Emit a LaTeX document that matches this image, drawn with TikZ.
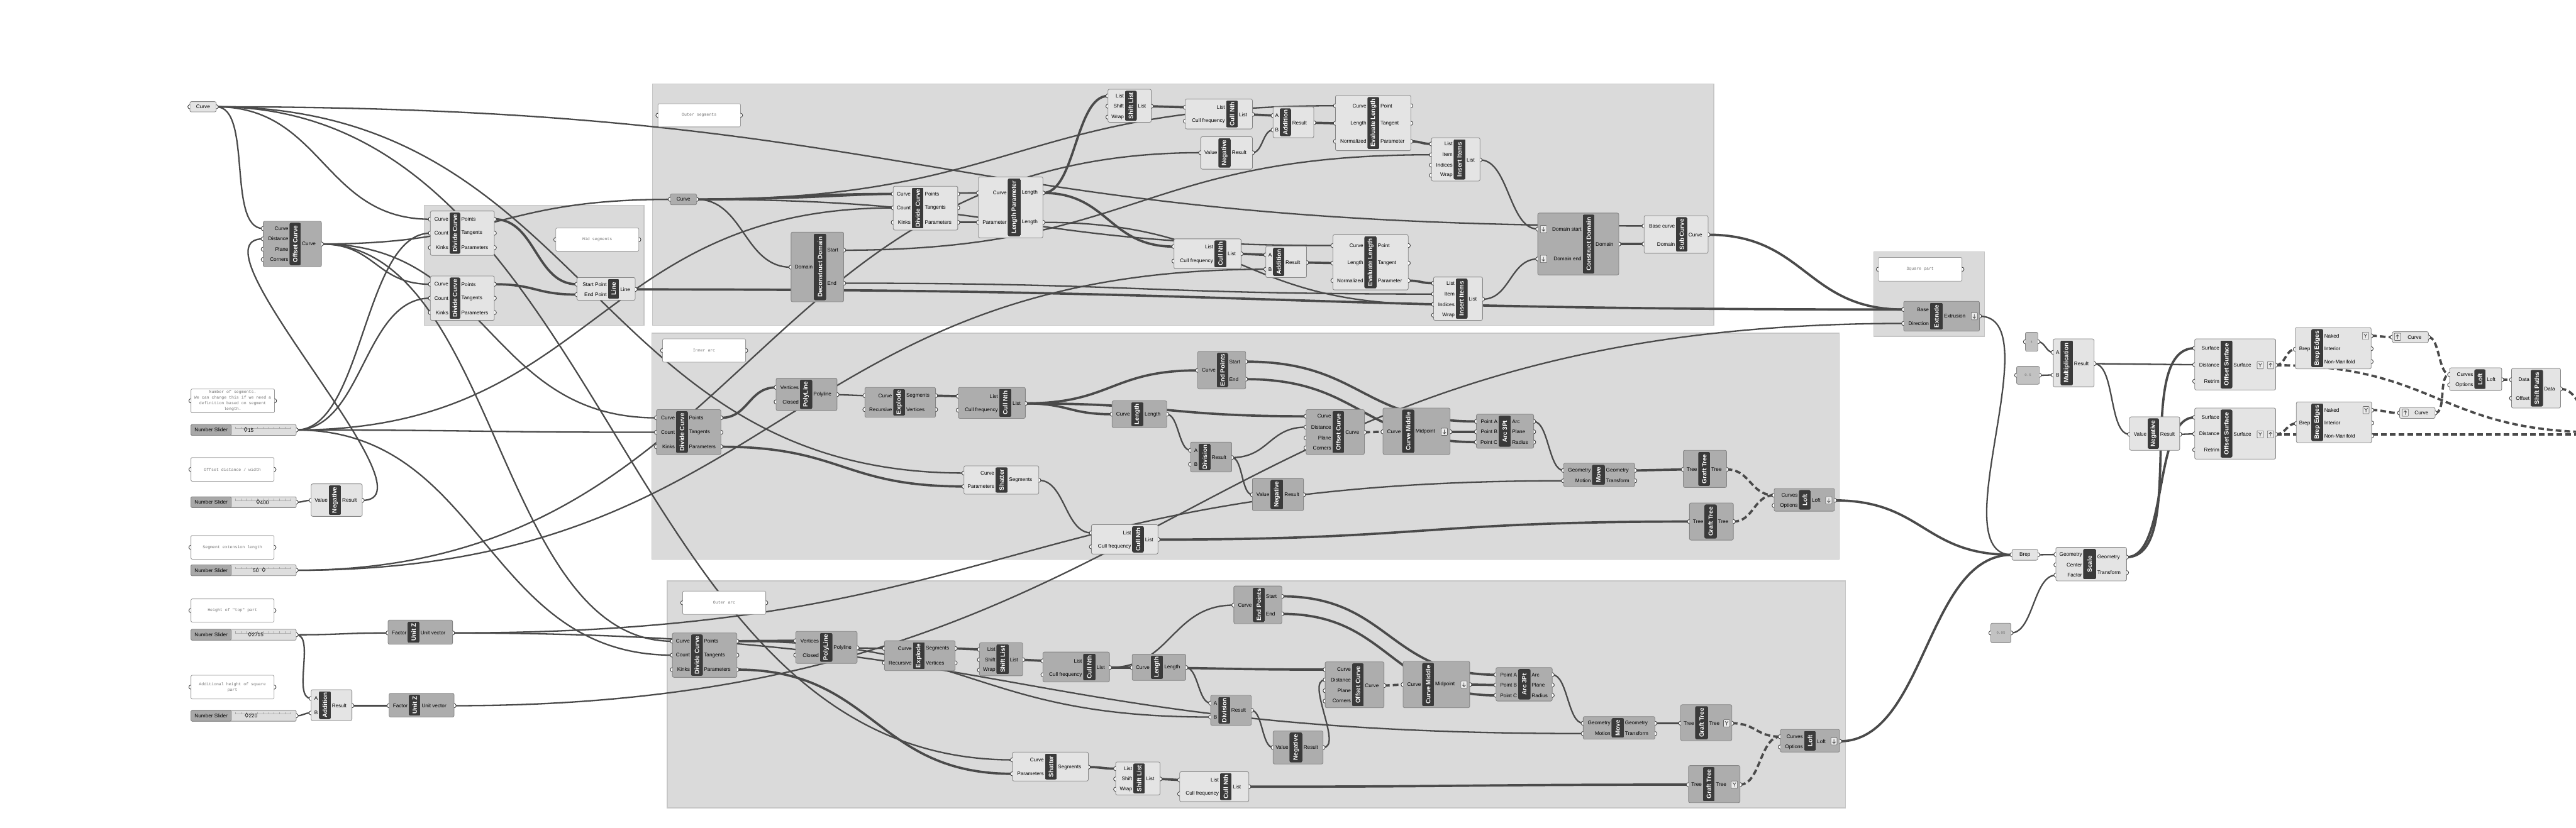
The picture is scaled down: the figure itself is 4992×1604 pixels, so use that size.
\documentclass[tikz,border=0pt]{standalone}
\usepackage{fontspec}
\setmainfont{Liberation Sans}
\newfontfamily\monof{Liberation Mono}
\usetikzlibrary{calc}
\definecolor{grpfill}{HTML}{DADADA}
\definecolor{grpline}{HTML}{C6C6C6}
\definecolor{compL}{HTML}{E4E4E4}
\definecolor{compD}{HTML}{ADADAD}
\definecolor{compB}{HTML}{858585}
\definecolor{barC}{HTML}{3A3A3A}
\definecolor{wireC}{HTML}{4A4A4A}
\definecolor{panelB}{HTML}{9A9A9A}
\definecolor{sliderL}{HTML}{A8A8A8}
\definecolor{sliderR}{HTML}{DEDEDE}
\definecolor{paramG}{HTML}{C2C2C2}
\pgfdeclarelayer{grp}\pgfdeclarelayer{wires}
\pgfsetlayers{grp,wires,main}
\tikzset{
 wt/.style={draw=wireC, line width=2.8pt},
 wl/.style={draw=wireC, line width=4.5pt},
 wd/.style={draw=wireC, line width=4.5pt, dash pattern=on 11pt off 6pt},
 portst/.style={fill=white, draw=black!75, line width=1.1pt},
 lbl/.style={font=\fontsize{10}{10}\selectfont, inner sep=0pt, text=black},
 ttl/.style={font=\bfseries\fontsize{12}{12}\selectfont, inner sep=0pt, text=white, rotate=90},
 iconst/.style={draw=black!60, fill=black!8, line width=0.8pt, rounded corners=1pt},
 grpbox/.style={fill=grpfill, draw=grpline, line width=1.5pt},
 monotxt/.style={font=\monof\fontsize{8}{11}\selectfont, text=black!55, align=center, inner sep=0pt},
}
% component: fill, name, x1, y1, x2, y2, barx1, barx2, title
\newcommand\ghc[9]{%
  \gdef\cN{#2}\gdef\cL{#3}\gdef\cR{#5}\gdef\cBL{#7}\gdef\cBR{#8}%
  \filldraw[fill=#1, draw=compB, line width=1pt, rounded corners=3pt] (#3,#4) rectangle (#5,#6);
  \coordinate (#2) at ({(#3+#5)/2},{(#4+#6)/2});
  \begin{scope}
    \path[clip, rounded corners=3pt] (#7,{#4+3}) rectangle (#8,{#6-3});
    \fill[barC] (#7,{#4+3}) rectangle (#8,{#6-3});
    \node[ttl] (#2-title) at ({(#7+#8)/2},{(#4+#6)/2}) {#9};
  \end{scope}}
\newcommand\ghi[3]{%
  \coordinate (\cN-#1) at (\cL,#2);
  \filldraw[portst] (\cN-#1) ++(0pt,-4pt) arc[start angle=270,end angle=90,radius=4pt];
  \node[lbl,anchor=east] (\cN-#1-t) at ({\cBL-2},#2) {#3};}
\newcommand\gho[3]{%
  \coordinate (\cN-#1) at (\cR,#2);
  \filldraw[portst] (\cN-#1) ++(0pt,-4pt) arc[start angle=-90,end angle=90,radius=4pt];
  \node[lbl,anchor=west] (\cN-#1-t) at ({\cBR+2},#2) {#3};}
% param: name x1 y1 x2 y2 fill text
\newcommand\ghp[7]{%
  \filldraw[fill=#6, draw=compB, line width=1pt, rounded corners=3pt] (#2,#3) rectangle (#4,#5);
  \node[lbl] (#1) at ({(#2+#4)/2},{(#3+#5)/2}) {#7};
  \coordinate (#1-in) at (#2,{(#3+#5)/2});
  \coordinate (#1-out) at (#4,{(#3+#5)/2});
  \filldraw[portst] (#1-in) ++(0pt,-4pt) arc[start angle=270,end angle=90,radius=4pt];
  \filldraw[portst] (#1-out) ++(0pt,-4pt) arc[start angle=-90,end angle=90,radius=4pt];}
% panel: name x1 y1 x2 y2 text
\newcommand\ghpanel[6]{%
  \filldraw[fill=white, draw=panelB, line width=1pt, rounded corners=2pt] (#2,#3) rectangle (#4,#5);
  \node[monotxt] (#1) at ({(#2+#4)/2},{(#3+#5)/2}) {#6};
  \coordinate (#1-in) at (#2,{(#3+#5)/2});
  \coordinate (#1-out) at (#4,{(#3+#5)/2});
  \filldraw[portst] (#1-in) ++(0pt,-4pt) arc[start angle=270,end angle=90,radius=4pt];
  \filldraw[portst] (#1-out) ++(0pt,-4pt) arc[start angle=-90,end angle=90,radius=4pt];}
% slider: name ytop diamondx textx value
\newcommand\ghslider[5]{%
  \filldraw[fill=sliderR, draw=compB, line width=1pt, rounded corners=2pt] (370,#2) rectangle (574,{#2+21});
  \filldraw[fill=sliderL, draw=compB, line width=1pt, rounded corners=2pt] (370,#2) rectangle (448,{#2+21});
  \node[lbl] (#1-lab) at (409,{#2+10.5}) {Number Slider};
  \draw[black!30, line width=0.6pt] (456,{#2+7}) -- (563,{#2+7});
  \foreach \t in {0,...,10} {\draw[black!35, line width=0.6pt] ({456+\t*10.7},{#2+4}) -- ({456+\t*10.7},{#2+8});}
  \draw[black!80, line width=1pt] (#3,{#2+5.5}) -- ({#3+3},{#2+9.5}) -- (#3,{#2+13.5}) -- ({#3-3},{#2+9.5}) -- cycle;
  \node[lbl, anchor=west] (#1-val) at (#4,{#2+11}) {#5};
  \coordinate (#1-out) at (574,{#2+10.5});
  \filldraw[portst] (#1-out) ++(0pt,-4pt) arc[start angle=-90,end angle=90,radius=4pt];}
\newcommand\icarrow[3]{%
  \filldraw[iconst] ({#1-6},{#2-7}) rectangle ({#1+6},{#2+7});
  \draw[black!70,line width=1pt] (#1,{#2-4*(#3)}) -- (#1,{#2+4*(#3)}) ({#1-3},{#2+1*(#3)}) -- (#1,{#2+4*(#3)}) -- ({#1+3},{#2+1*(#3)});}
\newcommand\icgraft[2]{%
  \filldraw[iconst] ({#1-6},{#2-7}) rectangle ({#1+6},{#2+7});
  \draw[black!70,line width=1pt] (#1,{#2+4}) -- (#1,{#2}) -- ({#1-3},{#2-4}) (#1,{#2}) -- ({#1+3},{#2-4});}
\newcommand\wire[3][wt]{%
  \draw[#1] let \p1=(#2), \p2=(#3), \n1={max(0.5*abs(\x2-\x1),0.3*abs(\y2-\y1),15)} in
    (\p1) .. controls +(\n1,0pt) and +(-\n1,0pt) .. (\p2);}

\begin{document}
\begin{tikzpicture}[x=1pt,y=-1pt]
\useasboundingbox (0,0) rectangle (4992,1604);
\begin{pgfonlayer}{grp}
\fill[white] (0,0) rectangle (4992,1604);
\filldraw[grpbox] (822,398) rectangle (1248,631);
\filldraw[grpbox] (1264,163) rectangle (3321,631);
\filldraw[grpbox] (1263,646) rectangle (3564,1084);
\filldraw[grpbox] (1293,1126) rectangle (3576,1566);
\filldraw[grpbox] (3631,488) rectangle (3846,652);
\end{pgfonlayer}

% ---------------- LEFT ----------------
\ghp{C0}{368}{197}{419}{217}{compL}{Curve}
\ghc{compD}{OffC}{510}{429}{623}{517}{561}{583}{Offset Curve}
\ghi{i1}{443}{Curve}\ghi{i2}{463}{Distance}\ghi{i3}{483}{Plane}\ghi{i4}{503}{Corners}\gho{o1}{473}{Curve}
\ghc{compL}{DC1}{834}{409}{958}{495}{871}{892}{Divide Curve}
\ghi{i1}{425}{Curve}\ghi{i2}{452}{Count}\ghi{i3}{480}{Kinks}\gho{o1}{425}{Points}\gho{o2}{452}{Tangents}\gho{o3}{480}{Parameters}
\ghc{compL}{DC2}{834}{535}{958}{621}{871}{892}{Divide Curve}
\ghi{i1}{551}{Curve}\ghi{i2}{578}{Count}\ghi{i3}{606}{Kinks}\gho{o1}{551}{Points}\gho{o2}{578}{Tangents}\gho{o3}{606}{Parameters}
\ghc{compL}{LN}{1118}{538}{1231}{582}{1178}{1200}{Line}
\ghi{i1}{551}{Start Point}\ghi{i2}{571}{End Point}\gho{o1}{561}{Line}
\ghpanel{P1}{1077}{442}{1238}{487}{Mid segments}

\ghpanel{P6}{370}{754}{532}{800}{Number of segments.\\We can change this if we need a\\definition based on segment\\length.}
\ghslider{S15}{823}{476}{480}{15}
\ghpanel{P7}{370}{887}{531}{933}{Offset distance / width}
\ghslider{S400}{963}{500}{504}{400}
\ghc{compL}{NegL}{603}{938}{702}{1001}{637}{661}{Negative}
\ghi{i1}{970}{Value}\gho{o1}{970}{Result}
\ghpanel{P8}{370}{1038}{531}{1084}{Segment extension length}
\ghslider{S50}{1095}{511}{490}{50}
\ghpanel{P9}{370}{1161}{531}{1206}{Height of "top" part}
\ghslider{S2715}{1220}{484}{488}{2715}
\ghc{compD}{UZ1}{752}{1202}{877}{1249}{790}{813}{Unit Z}
\ghi{i1}{1227}{Factor}\gho{o1}{1227}{Unit vector}
\ghpanel{P10}{370}{1309}{531}{1355}{Additional height of square\\part}
\ghslider{S220}{1377}{478}{482}{220}
\ghc{compL}{AddL}{603}{1337}{682}{1397}{618}{641}{Addition}
\ghi{i1}{1354}{A}\ghi{i2}{1382}{B}\gho{o1}{1368}{Result}
\ghc{compD}{UZ2}{754}{1344}{880}{1390}{792}{815}{Unit Z}
\ghi{i1}{1368}{Factor}\gho{o1}{1368}{Unit vector}

% ---------------- TOP GROUP ----------------
\ghpanel{P2}{1275}{201}{1435}{246}{Outer segments}
\ghp{TC}{1299}{376}{1350}{397}{compD}{Curve}
\ghc{compD}{DD}{1533}{450}{1635}{585}{1577}{1601}{Deconstruct Domain}
\ghi{i1}{518}{Domain}\gho{o1}{485}{Start}\gho{o2}{549}{End}
\ghc{compL}{TDC}{1731}{361}{1856}{446}{1767}{1790}{Divide Curve}
\ghi{i1}{376}{Curve}\ghi{i2}{403}{Count}\ghi{i3}{431}{Kinks}\gho{o1}{376}{Points}\gho{o2}{403}{Tangents}\gho{o3}{431}{Parameters}
\ghc{compL}{LP}{1896}{343}{2021}{461}{1953}{1978}{Length Parameter}
\ghi{i1}{374}{Curve}\ghi{i2}{431}{Parameter}\gho{o1}{374}{Length}\gho{o2}{431}{Length}
\ghc{compL}{TSL}{2147}{173}{2231}{237}{2180}{2203}{Shift List}
\ghi{i1}{186}{List}\ghi{i2}{206}{Shift}\ghi{i3}{227}{Wrap}\gho{o1}{206}{List}
\ghc{compL}{TCN1}{2297}{192}{2427}{250}{2376}{2399}{Cull Nth}
\ghi{i1}{208}{List}\ghi{i2}{235}{Cull frequency}\gho{o1}{222}{List}
\ghc{compL}{TNeg}{2327}{265}{2427}{328}{2361}{2385}{Negative}
\ghi{i1}{296}{Value}\gho{o1}{296}{Result}
\ghc{compL}{TA1}{2467}{207}{2546}{267}{2480}{2502}{Addition}
\ghi{i1}{224}{A}\ghi{i2}{252}{B}\gho{o1}{238}{Result}
\ghc{compL}{TCN2}{2275}{463}{2405}{521}{2353}{2377}{Cull Nth}
\ghi{i1}{478}{List}\ghi{i2}{506}{Cull frequency}\gho{o1}{492}{List}
\ghc{compL}{TA2}{2453}{477}{2532}{538}{2467}{2489}{Addition}
\ghi{i1}{494}{A}\ghi{i2}{522}{B}\gho{o1}{509}{Result}
\ghc{compL}{TEL1}{2588}{185}{2734}{292}{2650}{2673}{Evaluate Length}
\ghi{i1}{205}{Curve}\ghi{i2}{239}{Length}\ghi{i3}{274}{Normalized}\gho{o1}{205}{Point}\gho{o2}{239}{Tangent}\gho{o3}{274}{Parameter}
\ghc{compL}{TII1}{2774}{267}{2868}{351}{2817}{2840}{Insert Items}
\ghi{i1}{279}{List}\ghi{i2}{300}{Item}\ghi{i3}{320}{Indices}\ghi{i4}{340}{Wrap}\gho{o1}{310}{List}
\ghc{compL}{TEL2}{2583}{455}{2729}{562}{2644}{2668}{Evaluate Length}
\ghi{i1}{476}{Curve}\ghi{i2}{510}{Length}\ghi{i3}{544}{Normalized}\gho{o1}{476}{Point}\gho{o2}{510}{Tangent}\gho{o3}{544}{Parameter}
\ghc{compL}{TII2}{2778}{537}{2873}{621}{2821}{2844}{Insert Items}
\ghi{i1}{549}{List}\ghi{i2}{570}{Item}\ghi{i3}{590}{Indices}\ghi{i4}{611}{Wrap}\gho{o1}{580}{List}
\ghc{compD}{CD}{2980}{413}{3137}{533}{3067}{3090}{Construct Domain}
\ghi{i1}{444}{Domain start}\ghi{i2}{502}{Domain end}\gho{o1}{473}{Domain}
\icarrow{2991}{444}{1}\icarrow{2991}{502}{1}
\ghc{compL}{SC}{3186}{418}{3310}{491}{3248}{3270}{Sub Curve}
\ghi{i1}{438}{Base curve}\ghi{i2}{473}{Domain}\gho{o1}{455}{Curve}

% ---------------- MIDDLE GROUP ----------------
\ghpanel{P3}{1284}{657}{1445}{702}{Inner arc}
\ghc{compD}{MDC}{1272}{794}{1397}{881}{1310}{1333}{Divide Curve}
\ghi{i1}{810}{Curve}\ghi{i2}{838}{Count}\ghi{i3}{866}{Kinks}\gho{o1}{810}{Points}\gho{o2}{838}{Tangents}\gho{o3}{866}{Parameters}
\ghc{compD}{MPL}{1504}{733}{1622}{796}{1550}{1574}{PolyLine}
\ghi{i1}{751}{Vertices}\ghi{i2}{779}{Closed}\gho{o1}{765}{Polyline}
\ghc{compD}{MEX}{1676}{751}{1813}{809}{1731}{1754}{Explode}
\ghi{i1}{767}{Curve}\ghi{i2}{794}{Recursive}\gho{o1}{767}{Segments}\gho{o2}{794}{Vertices}
\ghc{compD}{MCN}{1857}{751}{1987}{811}{1936}{1960}{Cull Nth}
\ghi{i1}{768}{List}\ghi{i2}{795}{Cull frequency}\gho{o1}{782}{List}
\ghc{compD}{MLEN}{2155}{777}{2261}{829}{2192}{2216}{Length}
\ghi{i1}{803}{Curve}\gho{o1}{803}{Length}
\ghc{compD}{MDIV}{2307}{857}{2387}{915}{2323}{2346}{Division}
\ghi{i1}{873}{A}\ghi{i2}{900}{B}\gho{o1}{887}{Result}
\ghc{compD}{MEP}{2321}{681}{2414}{754}{2358}{2380}{End Points}
\ghi{i1}{718}{Curve}\gho{o1}{701}{Start}\gho{o2}{735}{End}
\ghc{compL}{MSH}{1868}{903}{2013}{958}{1929}{1953}{Shatter}
\ghi{i1}{917}{Curve}\ghi{i2}{943}{Parameters}\gho{o1}{931}{Segments}
\ghc{compL}{MCN2}{2115}{1017}{2244}{1074}{2194}{2217}{Cull Nth}
\ghi{i1}{1033}{List}\ghi{i2}{1060}{Cull frequency}\gho{o1}{1046}{List}
\ghc{compD}{MOC}{2531}{794}{2644}{881}{2582}{2605}{Offset Curve}
\ghi{i1}{807}{Curve}\ghi{i2}{828}{Distance}\ghi{i3}{849}{Plane}\ghi{i4}{868}{Corners}\gho{o1}{838}{Curve}
\ghc{compD}{MCM}{2680}{791}{2810}{881}{2717}{2741}{Curve Middle}
\ghi{i1}{837}{Curve}\gho{o1}{837}{Midpoint}\icarrow{2799}{837}{1}
\ghc{compD}{MARC}{2861}{803}{2972}{869}{2904}{2928}{Arc 3Pt}
\ghi{i1}{817}{Point A}\ghi{i2}{837}{Point B}\ghi{i3}{857}{Point C}\gho{o1}{817}{Arc}\gho{o2}{837}{Plane}\gho{o3}{857}{Radius}
\ghc{compD}{MNEG}{2427}{927}{2526}{990}{2462}{2487}{Negative}
\ghi{i1}{959}{Value}\gho{o1}{959}{Result}
\ghc{compD}{MMOVE}{3030}{898}{3168}{943}{3085}{3110}{Move}
\ghi{i1}{912}{Geometry}\ghi{i2}{932}{Motion}\gho{o1}{912}{Geometry}\gho{o2}{932}{Transform}
\ghc{compD}{MGT1}{3262}{873}{3346}{945}{3291}{3314}{Graft Tree}
\ghi{i1}{910}{Tree}\gho{o1}{910}{Tree}
\ghc{compD}{MGT2}{3274}{975}{3359}{1047}{3303}{3327}{Graft Tree}
\ghi{i1}{1011}{Tree}\gho{o1}{1011}{Tree}
\ghc{compD}{MLOFT}{3438}{947}{3555}{991}{3486}{3509}{Loft}
\ghi{i1}{960}{Curves}\ghi{i2}{980}{Options}\gho{o1}{970}{Loft}\icarrow{3544}{970}{1}

% ---------------- BOTTOM GROUP ----------------
\ghpanel{P4}{1323}{1146}{1484}{1191}{Outer arc}
\ghc{compD}{BDC}{1303}{1227}{1428}{1313}{1339}{1362}{Divide Curve}
\ghi{i1}{1243}{Curve}\ghi{i2}{1270}{Count}\ghi{i3}{1298}{Kinks}\gho{o1}{1243}{Points}\gho{o2}{1270}{Tangents}\gho{o3}{1298}{Parameters}
\ghc{compD}{BPL}{1542}{1224}{1661}{1286}{1589}{1613}{PolyLine}
\ghi{i1}{1242}{Vertices}\ghi{i2}{1270}{Closed}\gho{o1}{1256}{Polyline}
\ghc{compD}{BEX}{1714}{1242}{1851}{1300}{1769}{1792}{Explode}
\ghi{i1}{1257}{Curve}\ghi{i2}{1285}{Recursive}\gho{o1}{1257}{Segments}\gho{o2}{1285}{Vertices}
\ghc{compD}{BSL}{1898}{1246}{1982}{1310}{1931}{1955}{Shift List}
\ghi{i1}{1259}{List}\ghi{i2}{1279}{Shift}\ghi{i3}{1299}{Wrap}\gho{o1}{1279}{List}
\ghc{compD}{BCN}{2021}{1264}{2150}{1322}{2099}{2123}{Cull Nth}
\ghi{i1}{1281}{List}\ghi{i2}{1308}{Cull frequency}\gho{o1}{1294}{List}
\ghc{compD}{BLEN}{2194}{1268}{2298}{1319}{2230}{2254}{Length}
\ghi{i1}{1294}{Curve}\gho{o1}{1294}{Length}
\ghc{compD}{BDIV}{2346}{1348}{2425}{1406}{2361}{2384}{Division}
\ghi{i1}{1363}{A}\ghi{i2}{1390}{B}\gho{o1}{1377}{Result}
\ghc{compD}{BEP}{2391}{1136}{2484}{1209}{2428}{2451}{End Points}
\ghi{i1}{1173}{Curve}\gho{o1}{1156}{Start}\gho{o2}{1190}{End}
\ghc{compL}{BSH}{1962}{1458}{2109}{1514}{2025}{2048}{Shatter}
\ghi{i1}{1473}{Curve}\ghi{i2}{1500}{Parameters}\gho{o1}{1487}{Segments}
\ghc{compL}{BSL2}{2162}{1477}{2248}{1541}{2196}{2219}{Shift List}
\ghi{i1}{1490}{List}\ghi{i2}{1510}{Shift}\ghi{i3}{1530}{Wrap}\gho{o1}{1510}{List}
\ghc{compL}{BCN2}{2286}{1496}{2420}{1554}{2364}{2387}{Cull Nth}
\ghi{i1}{1512}{List}\ghi{i2}{1539}{Cull frequency}\gho{o1}{1525}{List}
\ghc{compD}{BOC}{2568}{1283}{2682}{1372}{2620}{2643}{Offset Curve}
\ghi{i1}{1298}{Curve}\ghi{i2}{1318}{Distance}\ghi{i3}{1339}{Plane}\ghi{i4}{1359}{Corners}\gho{o1}{1329}{Curve}
\ghc{compD}{BCM}{2719}{1282}{2848}{1372}{2756}{2779}{Curve Middle}
\ghi{i1}{1327}{Curve}\gho{o1}{1327}{Midpoint}\icarrow{2837}{1327}{1}
\ghc{compD}{BARC}{2899}{1294}{3008}{1359}{2942}{2966}{Arc 3Pt}
\ghi{i1}{1308}{Point A}\ghi{i2}{1328}{Point B}\ghi{i3}{1348}{Point C}\gho{o1}{1308}{Arc}\gho{o2}{1328}{Plane}\gho{o3}{1348}{Radius}
\ghc{compD}{BNEG}{2467}{1417}{2564}{1481}{2499}{2524}{Negative}
\ghi{i1}{1449}{Value}\gho{o1}{1449}{Result}
\ghc{compD}{BMOVE}{3068}{1389}{3207}{1433}{3123}{3147}{Move}
\ghi{i1}{1402}{Geometry}\ghi{i2}{1422}{Motion}\gho{o1}{1402}{Geometry}\gho{o2}{1422}{Transform}
\ghc{compD}{BGT1}{3257}{1366}{3356}{1436}{3285}{3310}{Graft Tree}
\ghi{i1}{1402}{Tree}\gho{o1}{1402}{Tree}\icgraft{3346}{1402}
\ghc{compD}{BGT2}{3272}{1484}{3372}{1556}{3300}{3323}{Graft Tree}
\ghi{i1}{1521}{Tree}\gho{o1}{1521}{Tree}\icgraft{3361}{1521}
\ghc{compD}{BLOFT}{3450}{1414}{3565}{1458}{3496}{3519}{Loft}
\ghi{i1}{1428}{Curves}\ghi{i2}{1448}{Options}\gho{o1}{1437}{Loft}\icarrow{3554}{1437}{1}

% ---------------- RIGHT ----------------
\ghpanel{P5}{3640}{499}{3802}{545}{Square part}
\ghc{compD}{EXT}{3689}{584}{3836}{642}{3740}{3765}{Extrude}
\ghi{i1}{600}{Base}\ghi{i2}{627}{Direction}\gho{o1}{613}{Extrusion}\icarrow{3826}{613}{1}
\ghp{Pm4}{3925}{644}{3949}{681}{paramG}{\monof\fontsize{6}{6}\selectfont\color{black!55}4}
\ghp{P05}{3908}{710}{3952}{745}{paramG}{\monof\fontsize{7}{7}\selectfont\color{black!55}0.5}
\ghc{compL}{MULT}{3979}{657}{4058}{750}{3993}{4017}{Multiplication}
\ghi{i1}{683}{A}\ghi{i2}{727}{B}\gho{o1}{705}{Result}
\ghc{compL}{OS1}{4253}{657}{4410}{756}{4303}{4326}{Offset Surface}
\ghi{i1}{675}{Surface}\ghi{i2}{707}{Distance}\ghi{i3}{739}{Retrim}\gho{o1}{708}{Surface}
\icgraft{4380}{708}\icarrow{4400}{708}{-1}
\ghc{compL}{BE1}{4448}{635}{4595}{715}{4479}{4502}{Brep Edges}
\ghi{i1}{677}{Brep}\gho{o1}{651}{Naked}\gho{o2}{676}{Interior}\gho{o3}{701}{Non-Manifold}\icgraft{4584}{651}
\ghc{compL}{NEGR}{4127}{808}{4224}{873}{4162}{4184}{Negative}
\ghi{i1}{842}{Value}\gho{o1}{842}{Result}
\ghc{compL}{OS2}{4253}{791}{4410}{890}{4303}{4326}{Offset Surface}
\ghi{i1}{809}{Surface}\ghi{i2}{841}{Distance}\ghi{i3}{872}{Retrim}\gho{o1}{842}{Surface}
\icgraft{4380}{842}\icarrow{4400}{842}{-1}
\ghc{compL}{BE2}{4450}{779}{4596}{858}{4479}{4502}{Brep Edges}
\ghi{i1}{821}{Brep}\gho{o1}{795}{Naked}\gho{o2}{820}{Interior}\gho{o3}{845}{Non-Manifold}\icgraft{4585}{795}
\ghp{BREP}{3899}{1065}{3949}{1086}{compL}{Brep}
\ghc{compL}{SCALE}{3984}{1061}{4121}{1126}{4037}{4062}{Scale}
\ghi{i1}{1075}{Geometry}\ghi{i2}{1095}{Center}\ghi{i3}{1115}{Factor}\gho{o1}{1080}{Geometry}\gho{o2}{1110}{Transform}
\ghp{P005}{3858}{1208}{3897}{1246}{paramG}{\monof\fontsize{7}{7}\selectfont\color{black!55}0.05}
\ghp{CP1}{4636}{643}{4706}{664}{compL}{\hspace*{16pt}Curve}\icarrow{4646}{653}{-1}
\ghp{CP2}{4650}{790}{4719}{811}{compL}{\hspace*{16pt}Curve}\icarrow{4661}{800}{-1}
\ghc{compL}{LOFTR}{4747}{713}{4848}{757}{4795}{4817}{Loft}
\ghi{i1}{726}{Curves}\ghi{i2}{746}{Options}\gho{o1}{736}{Loft}
\ghc{compL}{SP}{4867}{714}{4962}{791}{4904}{4928}{Shift Paths}
\ghi{i1}{736}{Data}\ghi{i2}{772}{Offset}\gho{o1}{754}{Data}
\coordinate (offR1) at (5040,838);
\coordinate (offR2) at (5040,842);
\coordinate (offR3) at (5060,868);

% ---------------- WIRES ----------------
\begin{pgfonlayer}{wires}
\wire{C0-out}{OffC-i1}
\wire{C0-out}{DC1-i1}
\wire{C0-out}{SC-i1}
\wire{C0-out}{BSH-i1}
\wire{C0-out}{MSH-i1}
\wire{OffC-o1}{DC2-i1}
\wire{OffC-o1}{TC-in}
\wire{OffC-o1}{MDC-i1}
\wire{OffC-o1}{BDC-i1}
\wire{S15-out}{DC1-i2}
\wire{S15-out}{DC2-i2}
\wire{S15-out}{MDC-i2}
\wire{S15-out}{BDC-i2}
\wire{S15-out}{TDC-i2}
\wire{S400-out}{NegL-i1}
\wire{NegL-o1}{OffC-i2}
\wire{S50-out}{TNeg-i1}
\wire{S50-out}{TA2-i2}
\wire{S2715-out}{UZ1-i1}
\wire{S2715-out}{AddL-i1}
\wire{S220-out}{AddL-i2}
\wire{AddL-o1}{UZ2-i1}
\wire{UZ1-o1}{MMOVE-i2}
\wire{UZ1-o1}{BMOVE-i2}
\wire{UZ2-o1}{EXT-i2}
\wire[wl]{DC1-o1}{LN-i1}
\wire[wl]{DC2-o1}{LN-i2}
\wire[wl]{LN-o1}{EXT-i1}
% top
\wire[wl]{TC-out}{TDC-i1}
\wire{TC-out}{LP-i1}
\wire{TC-out}{DD-i1}
\wire{TC-out}{TEL1-i1}
\wire{TC-out}{TEL2-i1}
\wire[wl]{TDC-o3}{LP-i2}
\wire[wl]{LP-o1}{TSL-i1}
\wire[wl]{LP-o1}{TCN2-i1}
\wire[wl]{TSL-o1}{TCN1-i1}
\wire[wl]{TCN1-o1}{TA1-i1}
\wire{TNeg-o1}{TA1-i2}
\wire[wl]{TA1-o1}{TEL1-i2}
\wire[wl]{TEL1-o3}{TII1-i1}
\wire{DD-o1}{TII1-i2}
\wire[wl]{TCN2-o1}{TA2-i1}
\wire[wl]{TA2-o1}{TEL2-i2}
\wire[wl]{TEL2-o3}{TII2-i1}
\wire{DD-o2}{TII2-i2}
\wire{LP-o2}{TII2-i3}
\wire{TII1-o1}{CD-i1}
\wire{TII2-o1}{CD-i2}
\wire[wl]{CD-o1}{SC-i2}
\wire[wl]{SC-o1}{EXT-i1}
% middle
\wire[wl]{MDC-o1}{MPL-i1}
\wire{MPL-o1}{MEX-i1}
\wire[wl]{MEX-o1}{MCN-i1}
\wire[wl]{MCN-o1}{MLEN-i1}
\wire[wl]{MCN-o1}{MEP-i1}
\wire[wl]{MCN-o1}{MOC-i1}
\wire{MLEN-o1}{MDIV-i1}
\wire{MDIV-o1}{MOC-i2}
\wire{MDIV-o1}{MNEG-i1}
\wire[wd]{MOC-o1}{MCM-i1}
\wire[wl]{MEP-o1}{MARC-i1}
\wire[wl]{MEP-o2}{MARC-i3}
\wire[wl]{MCM-o1}{MARC-i2}
\wire{MARC-o1}{MMOVE-i1}
\wire[wl]{MMOVE-o1}{MGT1-i1}
\wire[wd]{MGT1-o1}{MLOFT-i1}
\wire[wd]{MGT2-o1}{MLOFT-i1}
\wire[wl]{MDC-o3}{MSH-i2}
\wire{MSH-o1}{MCN2-i1}
\wire[wl]{MCN2-o1}{MGT2-i1}
\wire[wl]{MLOFT-o1}{BREP-in}
% bottom
\wire[wl]{BDC-o1}{BPL-i1}
\wire{BDC-o1}{BDIV-i2}
\wire{BPL-o1}{BEX-i1}
\wire[wl]{BEX-o1}{BSL-i1}
\wire[wl]{BSL-o1}{BCN-i1}
\wire[wl]{BCN-o1}{BLEN-i1}
\wire{BCN-o1}{BEP-i1}
\wire[wl]{BCN-o1}{BOC-i1}
\wire{BLEN-o1}{BDIV-i1}
\wire{BDIV-o1}{BNEG-i1}
\wire{BNEG-o1}{BOC-i2}
\wire[wd]{BOC-o1}{BCM-i1}
\wire[wl]{BEP-o1}{BARC-i1}
\wire[wl]{BEP-o2}{BARC-i3}
\wire[wl]{BCM-o1}{BARC-i2}
\wire{BARC-o1}{BMOVE-i1}
\wire[wl]{BMOVE-o1}{BGT1-i1}
\wire[wd]{BGT1-o1}{BLOFT-i1}
\wire[wd]{BGT2-o1}{BLOFT-i1}
\wire[wl]{BDC-o3}{BSH-i2}
\wire[wl]{BSH-o1}{BSL2-i1}
\wire[wl]{BSL2-o1}{BCN2-i1}
\wire[wl]{BCN2-o1}{BGT2-i1}
\wire[wl]{BLOFT-o1}{BREP-in}
% right
\wire{EXT-o1}{BREP-in}
\wire{BREP-out}{SCALE-i1}
\wire{P005-out}{SCALE-i3}
\wire[wl]{SCALE-o1}{OS1-i1}
\wire[wl]{SCALE-o1}{OS2-i1}
\wire{Pm4-out}{MULT-i1}
\wire{P05-out}{MULT-i2}
\wire{MULT-o1}{OS1-i2}
\wire{MULT-o1}{NEGR-i1}
\wire{NEGR-o1}{OS2-i2}
\wire[wd]{OS1-o1}{BE1-i1}
\wire[wd]{OS2-o1}{BE2-i1}
\wire[wd]{OS1-o1}{offR1}
\wire[wd]{OS2-o1}{offR2}
\wire[wd]{BE1-o1}{CP1-in}
\wire[wd]{BE2-o1}{CP2-in}
\wire[wd]{CP1-out}{LOFTR-i1}
\wire[wd]{CP2-out}{LOFTR-i1}
\wire[wd]{LOFTR-o1}{SP-i1}
\wire[wd]{SP-o1}{offR3}
\end{pgfonlayer}
\end{tikzpicture}
\end{document}
